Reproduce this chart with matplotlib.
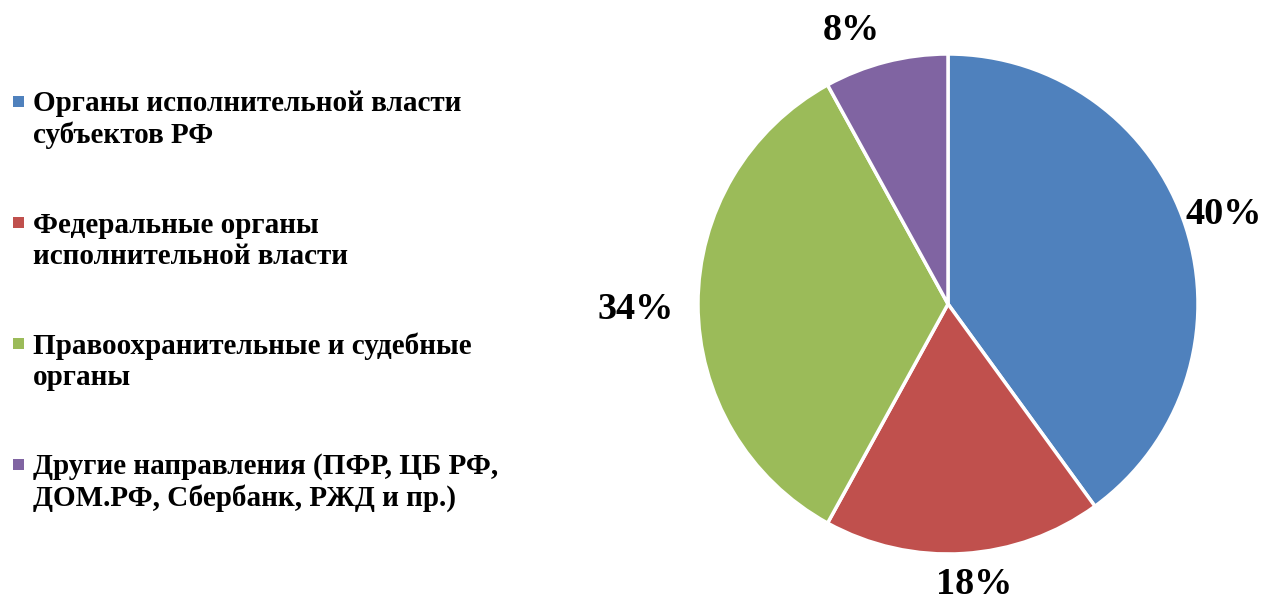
import matplotlib
matplotlib.use("Agg")
import matplotlib.pyplot as plt
from matplotlib.patches import Rectangle
import numpy as np

labels = [
    "Органы исполнительной власти\nсубъектов РФ",
    "Федеральные органы\nисполнительной власти",
    "Правоохранительные и судебные\nорганы",
    "Другие направления (ПФР, ЦБ РФ,\nДОМ.РФ, Сбербанк, РЖД и пр.)",
]
shares = [40, 18, 34, 8]
colors = ["#4F81BD", "#C0504D", "#9BBB59", "#8064A2"]

# label placement tweaks (distance from centre in radii, extra angle in degrees)
label_dist = [1.16, 1.125, 1.25, 1.16]
label_shift = [0, 1.8, 1, 5]

plt.rcParams["font.family"] = ["Liberation Serif", "DejaVu Serif"]

W, H = 1266, 604
fig = plt.figure(figsize=(W / 100, H / 100), dpi=100)

cx, cy, R = 948, 304, 250
ax = fig.add_axes([(cx - R) / W, (H - cy - R) / H, 2 * R / W, 2 * R / H])
wedges, _ = ax.pie(shares, colors=colors, startangle=90, counterclock=False,
                   radius=1, wedgeprops=dict(edgecolor="white", linewidth=2.5))
ax.set_xlim(-1, 1)
ax.set_ylim(-1, 1)
ax.axis("off")

for w, val, d, s in zip(wedges, shares, label_dist, label_shift):
    ang = np.deg2rad((w.theta1 + w.theta2) / 2 + s)
    ax.text(d * np.cos(ang), d * np.sin(ang), f"{val}%", ha="center", va="center",
            fontsize=27.5, fontweight="bold", clip_on=False)

# legend on the left, drawn by hand so markers sit on the first line
for i, (lab, col) in enumerate(zip(labels, colors)):
    base = 112 + i * 121  # baseline of first line, px from top
    fig.text(33 / W, 1 - (base + 31) / H, lab, ha="left", va="baseline",
             fontsize=21, fontweight="bold", linespacing=1.2)
    fig.patches.append(Rectangle((13 / W, 1 - (base - 5) / H), 11 / W, 11 / H,
                                 transform=fig.transFigure, facecolor=col,
                                 edgecolor="none"))

fig.savefig("out.png", dpi=100)
